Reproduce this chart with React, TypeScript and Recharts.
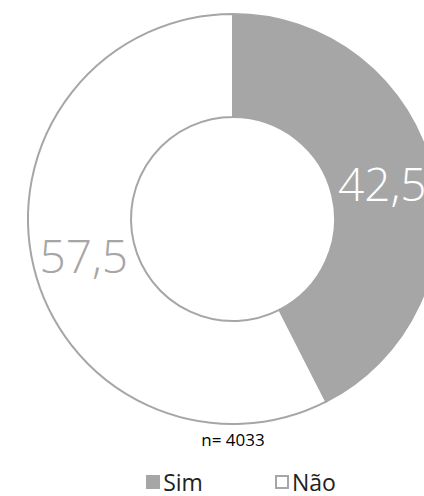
import React from 'react';
import { PieChart, Pie, Cell, Legend } from 'recharts';

const categories = ['Sim', 'Não'];
const values = [42.5, 57.5];
const sampleLabel = 'n= 4033';

const colors = ['#a6a6a6', '#ffffff'];
const labelColors = ['#ffffff', '#a6a6a6'];

const data = categories.map((name, i) => ({ name, value: values[i] }));

const RAD = Math.PI / 180;

const renderLabel = (props: any) => {
  const { cx, cy, midAngle, innerRadius, outerRadius, index, value } = props;
  const r = (innerRadius + outerRadius) / 2;
  const x = cx + r * Math.cos(-midAngle * RAD);
  const y = cy + r * Math.sin(-midAngle * RAD);
  return (
    <text
      x={x}
      y={y}
      fill={labelColors[index]}
      textAnchor="middle"
      dominantBaseline="central"
      fontSize={46}
      fontWeight={300}
      fontFamily="'Open Sans', sans-serif"
    >
      {String(value).replace('.', ',')}
    </text>
  );
};

const renderLegend = () => (
  <div style={{ display: 'flex', justifyContent: 'center', gap: 72, fontFamily: "'Open Sans', sans-serif", fontSize: 23, lineHeight: '30px', color: '#222', paddingLeft: 58 }}>
    {categories.map((c, i) => (
      <div key={c} style={{ display: 'flex', alignItems: 'center' }}>
        <span
          style={{
            display: 'inline-block',
            width: 14,
            height: 14,
            background: colors[i],
            border: '2px solid #a6a6a6',
            boxSizing: 'border-box',
            marginRight: 3,
          }}
        />
        {c}
      </div>
    ))}
  </div>
);

export default function App() {
  return (
    <div style={{ position: 'relative', width: 424, height: 496, background: '#fff' }}>
      <style>{'body{margin:0}'}</style>
      <PieChart width={424} height={496}>
        <Pie
          data={data}
          dataKey="value"
          nameKey="name"
          cx={228}
          cy={214}
          innerRadius={102}
          outerRadius={205}
          startAngle={90}
          endAngle={-270}
          stroke="#a6a6a6"
          strokeWidth={2}
          label={renderLabel}
          labelLine={false}
          isAnimationActive={false}
        >
          {data.map((d, i) => (
            <Cell key={d.name} fill={colors[i]} />
          ))}
        </Pie>
        <Legend content={renderLegend} verticalAlign="bottom" wrapperStyle={{ top: 467, left: 0, width: 424, height: 30 }} />
      </PieChart>
      <div
        style={{
          position: 'absolute',
          top: 428,
          left: 0,
          width: 466,
          textAlign: 'center',
          fontFamily: "'Open Sans', sans-serif",
          fontSize: 17,
          color: '#000',
        }}
      >
        {sampleLabel}
      </div>
    </div>
  );
}
